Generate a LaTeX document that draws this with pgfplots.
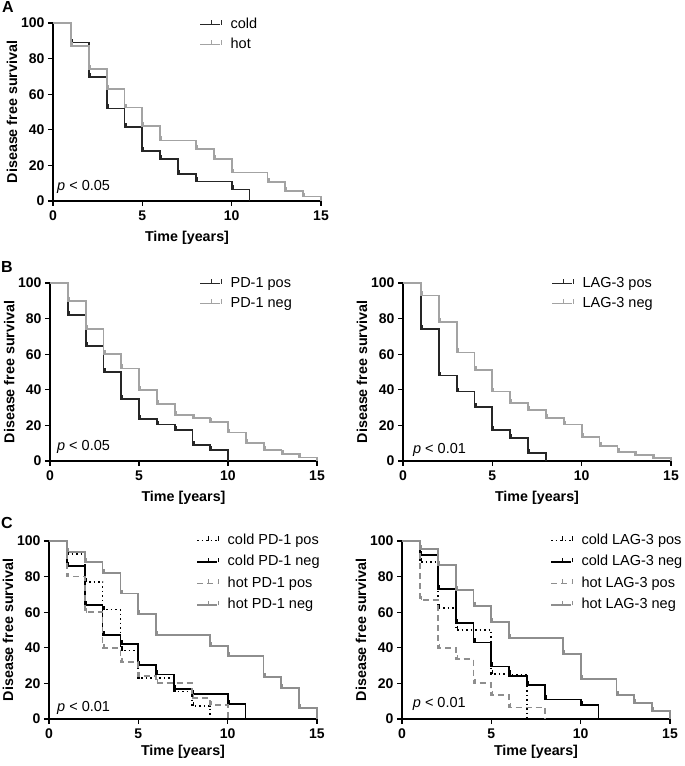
\documentclass[border=0pt]{standalone}
\usepackage{fontspec}
\setmainfont{Liberation Sans}
\usepackage{pgfplots}
\pgfplotsset{compat=1.18}

\definecolor{dk}{HTML}{262626}
\definecolor{lt}{HTML}{A3A3A3}
\definecolor{md}{HTML}{8E8E8E}

\pgfdeclareplotmark{cens}{\pgfpathmoveto{\pgfqpoint{1.5pt}{-0.5pt}}\pgfpathlineto{\pgfqpoint{1.5pt}{4pt}}\pgfusepathqstroke}

\tikzset{pv/.style={anchor=west, inner sep=0pt, font=\fontsize{14.5}{17}\selectfont}}

\pgfplotsset{
 km/.style={
  scale only axis, width=268pt, height=178pt,
  xmin=0, xmax=15, ymin=0, ymax=100,
  axis x line*=bottom, axis y line*=left,
  axis line style={black, line width=1.4pt},
  xtick={0,5,10,15}, ytick={0,20,...,100},
  tick align=outside, major tick length=5pt,
  tick style={black, line width=1.3pt},
  ticklabel style={font=\bfseries\fontsize{14}{16}\selectfont},
  xticklabel style={yshift=-1pt},
  /pgf/number format/assume math mode=true,
  xlabel={Time [years]}, ylabel={Disease free survival},
  every axis x label/.style={at={(axis description cs:0.5,-0.205)}, anchor=center, font=\bfseries\fontsize{14.3}{16}\selectfont},
  every axis y label/.style={at={(axis description cs:-0.153,0.5)}, rotate=90, anchor=center, font=\bfseries\fontsize{14.3}{16}\selectfont},
  clip=false,
  legend cell align=left,
  legend style={draw=none, fill=none, font=\fontsize{14.5}{17}\selectfont, inner sep=0pt, row sep=4.5pt, anchor=north west,
    nodes={inner sep=1pt, text height=10.5pt, text depth=3pt},
    /tikz/every odd column/.append style={column sep=8pt}},
  legend image code/.code={\draw[mark repeat=2,mark phase=2,##1] plot coordinates {(0pt,0pt)(10pt,0pt)(20pt,0pt)};},
 },
 cens/.style={const plot, line width=1.8pt, mark=cens, mark options={solid, line width=1.2pt}},
}

\begin{document}
\begin{tikzpicture}[x=1pt,y=1pt]
\useasboundingbox (0,0) rectangle (685,766);

\node[font=\bfseries\fontsize{16}{18}\selectfont] at (8,759) {A};
\node[font=\bfseries\fontsize{16}{18}\selectfont] at (7,499) {B};
\node[font=\bfseries\fontsize{16}{18}\selectfont] at (7,243) {C};

% Panel A
\begin{axis}[km, at={(53pt,565pt)}, anchor=south west,
  legend style={at={(axis description cs:0.545,1.0365)}}]
\addplot[dk, cens, mark indices={2,...,10}] coordinates {(0,100)(1,89)(2,69.5)(3,52)(4,41.5)(5,28)(6,23.5)(7,15)(8,11)(10,6.5)(11,0)};
\addlegendentry{cold}
\addplot[lt, cens, mark indices={2,...,13}] coordinates {(0,100)(1,87)(2,74)(3,63)(4,52.5)(5,42)(6,34)(8,29)(9,23.5)(10,16)(12,10.5)(13,5.5)(14,2.5)(15,0)};
\addlegendentry{hot}
\node[pv] at (axis description cs:0.015,0.079) {\textit{p} < 0.05};
\end{axis}

% Panel B left
\begin{axis}[km, width=267pt, at={(50pt,305pt)}, anchor=south west,
  legend style={at={(axis description cs:0.558,1.042)}}]
\addplot[dk, cens, mark indices={2,...,10}] coordinates {(0,100)(1,82)(2,64.5)(3,50)(4,35)(5,23.5)(6,20.5)(7,17.5)(8,9)(9,6)(10,0)};
\addlegendentry{PD-1 pos}
\addplot[lt, cens, mark indices={2,...,15}] coordinates {(0,100)(1,90)(2,74)(3,60)(4,52)(5,40)(6,32)(7,26)(8,24)(9,22)(10,16)(11,10)(12,6)(13,4)(14,2)(15,0)};
\addlegendentry{PD-1 neg}
\node[pv] at (axis description cs:0.026,0.079) {\textit{p} < 0.05};
\end{axis}

% Panel B right
\begin{axis}[km, at={(403pt,305pt)}, anchor=south west,
  legend style={at={(axis description cs:0.552,1.042)}}]
\addplot[dk, cens, mark indices={2,...,8}] coordinates {(0,100)(1,74)(2,48)(3,39)(4,30.5)(5,17.5)(6,13)(7,4.5)(8,0)};
\addlegendentry{LAG-3 pos}
\addplot[lt, cens, mark indices={2,...,15}] coordinates {(0,100)(1,93)(2,78)(3,61)(4,51)(5,39)(6,32.5)(7,28.5)(8,24)(9,20.5)(10,13.5)(11,8.5)(12,5)(13,3.5)(14,1.5)(15,0)};
\addlegendentry{LAG-3 neg}
\node[pv] at (axis description cs:0.037,0.062) {\textit{p} < 0.01};
\end{axis}

% Panel C left
\begin{axis}[km, at={(49pt,47pt)}, anchor=south west,
  every axis x label/.append style={at={(axis description cs:0.5,-0.185)}},
  legend style={at={(axis description cs:0.549,1.048)}, row sep=6pt}]
\addplot[black, cens, dash pattern=on 1.5pt off 3pt, mark indices={2,...,8}] coordinates {(0,100)(1,92.5)(2,77)(3,61.5)(4,38.5)(5,23)(7,15.5)(8,7.5)(9,0)};
\addlegendentry{cold PD-1 pos}
\addplot[black, cens, mark indices={2,...,10}] coordinates {(0,100)(1,86)(2,64)(3,47)(4,42)(5,30.5)(6,25)(7,17)(8,14)(10,8.5)(11,0)};
\addlegendentry{cold PD-1 neg}
\addplot[md, cens, dash pattern=on 6pt off 4pt, mark indices={2,...,9}] coordinates {(0,100)(1,80)(2,60)(3,40)(4,32)(5,24)(6,20)(8,12)(9,8)(10,0)};
\addlegendentry{hot PD-1 pos}
\addplot[md, cens, mark indices={2,...,12}] coordinates {(0,100)(1,94)(2,88)(3,82)(4,70.5)(5,59)(6,47)(9,41)(10,35.5)(12,23.5)(13,17.5)(14,6)(15,0)};
\addlegendentry{hot PD-1 neg}
\node[pv] at (axis description cs:0.03,0.06) {\textit{p} < 0.01};
\end{axis}

% Panel C right
\begin{axis}[km, at={(402pt,47pt)}, anchor=south west,
  every axis x label/.append style={at={(axis description cs:0.5,-0.185)}},
  legend style={at={(axis description cs:0.552,1.048)}, row sep=6pt}]
\addplot[black, cens, dash pattern=on 1.5pt off 3pt, mark indices={2,...,6}] coordinates {(0,100)(1,88)(2,62.5)(3,50)(5,25.5)(6,25)(7,0)};
\addlegendentry{cold LAG-3 pos}
\addplot[black, cens, mark indices={2,...,10}] coordinates {(0,100)(1,92)(2,73)(3,54)(4,43)(5,29.5)(6,24)(7,19)(8,11)(10,8)(11,0)};
\addlegendentry{cold LAG-3 neg}
\addplot[md, cens, dash pattern=on 6pt off 4pt, mark indices={2,...,7}] coordinates {(0,100)(1,67)(2,40)(3,33.5)(4,20)(5,13.5)(6,6.5)(8,0)};
\addlegendentry{hot LAG-3 pos}
\addplot[md, cens, mark indices={2,...,12}] coordinates {(0,100)(1,95.5)(2,86.5)(3,72.5)(4,63.5)(5,54.5)(6,45.5)(9,36.5)(10,22.5)(12,13.5)(13,9)(14,4.5)(15,0)};
\addlegendentry{hot LAG-3 neg}
\node[pv] at (axis description cs:0.04,0.084) {\textit{p} < 0.01};
\end{axis}
\end{tikzpicture}
\end{document}
